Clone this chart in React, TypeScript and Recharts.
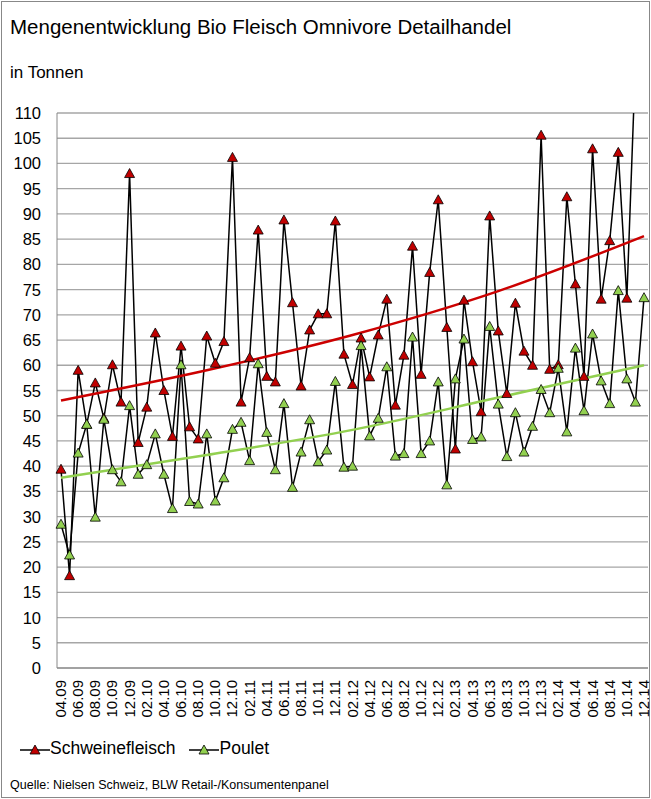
import { CartesianGrid, Line, LineChart, XAxis, YAxis } from 'recharts';

const months = [
  '04.09', '05.09', '06.09', '07.09', '08.09', '09.09', '10.09', '11.09', '12.09',
  '01.10', '02.10', '03.10', '04.10', '05.10', '06.10', '07.10', '08.10', '09.10', '10.10', '11.10', '12.10',
  '01.11', '02.11', '03.11', '04.11', '05.11', '06.11', '07.11', '08.11', '09.11', '10.11', '11.11', '12.11',
  '01.12', '02.12', '03.12', '04.12', '05.12', '06.12', '07.12', '08.12', '09.12', '10.12', '11.12', '12.12',
  '01.13', '02.13', '03.13', '04.13', '05.13', '06.13', '07.13', '08.13', '09.13', '10.13', '11.13', '12.13',
  '01.14', '02.14', '03.14', '04.14', '05.14', '06.14', '07.14', '08.14', '09.14', '10.14', '11.14', '12.14',
];

const schwein = [
  39.4, 18.3, 59, 48.3, 56.5, 49.5, 60.1, 52.7, 98, 44.7, 51.7, 66.4, 55, 45.9, 63.8, 47.8, 45.4,
  65.8, 60.4, 64.7, 101.2, 52.7, 61.5, 86.8, 57.8, 56.7, 88.8, 72.4, 55.9, 67, 70.2, 70.2, 88.6,
  62.2, 56.2, 65.4, 57.7, 66, 73.1, 52.1, 62, 83.6, 58.2, 78.4, 92.8, 67.5, 43.4, 72.9, 60.7, 50.8,
  89.6, 66.8, 54.4, 72.3, 62.8, 60, 105.6, 59.2, 60.1, 93.4, 76.1, 57.8, 102.9, 73.1, 84.7, 102.2,
  73.3, 120, null,
];

const poulet = [
  28.5, 22.4, 42.6, 48.3, 29.9, 49.3, 39.3, 36.9, 52, 38.4, 40.3, 46.4, 38.4, 31.6, 60.1, 33, 32.5,
  46.4, 33.1, 37.7, 47.3, 48.7, 41.1, 60.3, 46.7, 39.3, 52.4, 35.8, 42.8, 49.2, 40.9, 43.2, 56.8,
  39.8, 40, 63.9, 46, 49.5, 59.7, 42, 42.5, 65.6, 42.5, 45, 56.7, 36.3, 57.3, 65.2, 45.3, 45.8,
  67.7, 52.3, 41.9, 50.6, 42.8, 47.9, 55.2, 50.6, 59.4, 46.8, 63.4, 51, 66.2, 56.9, 52.4, 74.8,
  57.3, 52.7, 73.4,
];

// trend values read at a few months, joined across the gaps
const trendIdx = [0, 17, 34, 51, 68];
const trendSchwein = [53, 59, 66, 74.7, 85.6];
const trendPoulet = [37.7, 42.2, 47.2, 53.6, 60];

const yTicks = Array.from({ length: 23 }, (_, i) => i * 5);

const data = months.map((m, i) => {
  const t = trendIdx.indexOf(i);
  return {
    m,
    schwein: schwein[i],
    poulet: poulet[i],
    tS: t >= 0 ? trendSchwein[t] : null,
    tP: t >= 0 ? trendPoulet[t] : null,
  };
});

const font = 'Arial, "Liberation Sans", sans-serif';

const Tri = ({ cx, cy, fill }: { cx?: number; cy?: number; fill: string }) => {
  if (cx == null || cy == null) return null;
  return (
    <path
      d={`M${cx},${cy - 5} L${cx + 5},${cy + 4} L${cx - 5},${cy + 4} Z`}
      fill={fill}
      stroke="#000"
      strokeWidth={0.8}
    />
  );
};

const LegendIcon = ({ fill }: { fill: string }) => (
  <svg width={30} height={12} style={{ verticalAlign: 'middle' }}>
    <line x1={0} y1={7} x2={30} y2={7} stroke="#000" strokeWidth={1.5} />
    <path d="M15,2 L20,11 L10,11 Z" fill={fill} stroke="#000" strokeWidth={0.8} />
  </svg>
);

export default function App() {
  return (
    <div
      style={{
        position: 'absolute',
        left: 0,
        top: 0,
        width: 651,
        height: 799,
        background: '#fff',
        fontFamily: font,
      }}
    >
      <div
        style={{
          position: 'absolute',
          left: 1,
          top: 1,
          width: 647,
          height: 795,
          border: '1px solid #888',
        }}
      />
      <div style={{ position: 'absolute', left: 10, top: 15, fontSize: 20.5 }}>
        Mengenentwicklung Bio Fleisch Omnivore Detailhandel
      </div>
      <div style={{ position: 'absolute', left: 10, top: 63, fontSize: 17 }}>in Tonnen</div>
      <LineChart
        width={651}
        height={740}
        data={data}
        margin={{ top: 113, right: 3, bottom: 0, left: 0 }}
        style={{ position: 'absolute', left: 0, top: 0 }}
      >
        <CartesianGrid vertical={false} stroke="#a6a6a6" strokeWidth={1.3} />
        <XAxis
          dataKey="m"
          interval={1}
          height={72}
          padding={{ left: 4, right: 4 }}
          tickLine={false}
          stroke="#888"
          tick={({ x, y, payload }: any) => (
            <text
              x={x}
              y={y}
              transform={`rotate(-90 ${x} ${y})`}
              dx={-4}
              dy={5}
              textAnchor="end"
              fontSize={15}
              fontFamily={font}
              fill="#000"
            >
              {payload.value}
            </text>
          )}
        />
        <YAxis
          domain={[0, 110]}
          ticks={yTicks}
          allowDataOverflow
          width={57}
          interval={0}
          tickLine={false}
          stroke="#888"
          tick={({ x, y, payload }: any) => (
            <text x={x - 8} y={y} dy={6} textAnchor="end" fontSize={16.5} fontFamily={font} fill="#000">
              {payload.value}
            </text>
          )}
        />
        <Line
          dataKey="schwein"
          stroke="#000"
          strokeWidth={1.5}
          dot={(p: any) => <Tri key={p.index} cx={p.cx} cy={p.cy} fill="#c00000" />}
          isAnimationActive={false}
        />
        <Line
          dataKey="poulet"
          stroke="#000"
          strokeWidth={1.5}
          dot={(p: any) => <Tri key={p.index} cx={p.cx} cy={p.cy} fill="#92d050" />}
          isAnimationActive={false}
        />
        <Line
          dataKey="tS"
          type="monotone"
          connectNulls
          stroke="#cc0000"
          strokeWidth={2.5}
          dot={false}
          isAnimationActive={false}
        />
        <Line
          dataKey="tP"
          type="monotone"
          connectNulls
          stroke="#92d050"
          strokeWidth={2.5}
          dot={false}
          isAnimationActive={false}
        />
      </LineChart>
      <div style={{ position: 'absolute', left: 20, top: 738, fontSize: 17.5 }}>
        <LegendIcon fill="#c00000" />
        Schweinefleisch
        <span style={{ marginLeft: 14 }} />
        <LegendIcon fill="#92d050" />
        Poulet
      </div>
      <div style={{ position: 'absolute', left: 10, top: 778, fontSize: 12.5 }}>
        Quelle: Nielsen Schweiz, BLW Retail-/Konsumentenpanel
      </div>
    </div>
  );
}
